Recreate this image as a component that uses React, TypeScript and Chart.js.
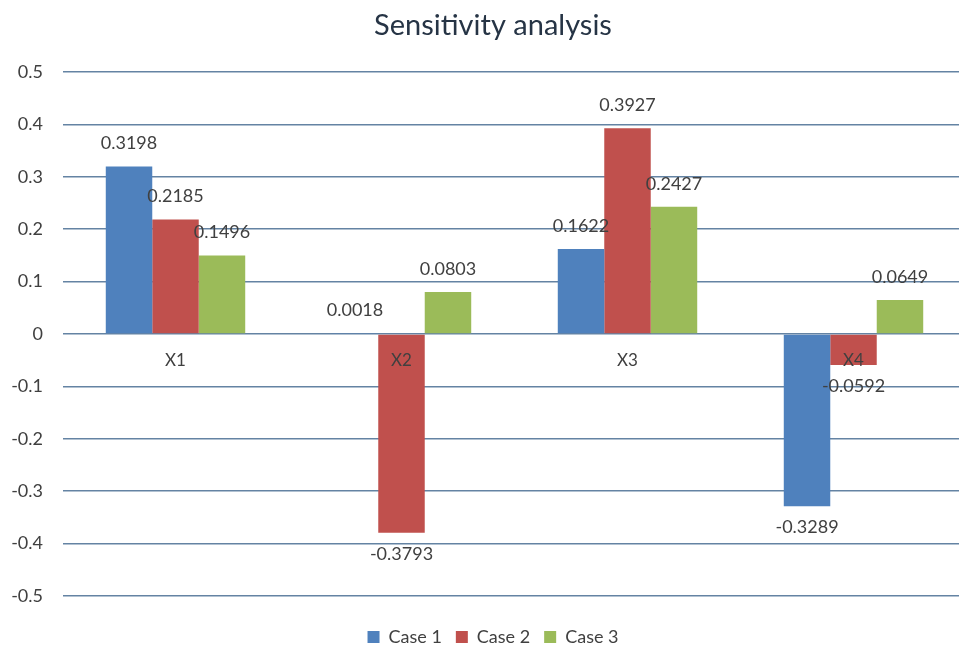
import React, { useEffect, useRef } from 'react';
import { Chart, registerables } from 'chart.js';

Chart.register(...registerables);

const categories = ['X1', 'X2', 'X3', 'X4'];
const seriesNames = ['Case 1', 'Case 2', 'Case 3'];
const case1 = [0.3198, 0.0018, 0.1622, -0.3289];
const case2 = [0.2185, -0.3793, 0.3927, -0.0592];
const case3 = [0.1496, 0.0803, 0.2427, 0.0649];
const yTickValues = [-0.5, -0.4, -0.3, -0.2, -0.1, 0, 0.1, 0.2, 0.3, 0.4, 0.5];

const seriesColors = ['#4F81BD', '#C0504D', '#9BBB59'];
const FONT = 'Lato';
const TEXT = '#404040';

const valueLabels = {
  id: 'valueLabels',
  afterDatasetsDraw(chart: any) {
    const ctx = chart.ctx;
    ctx.save();
    ctx.font = `18px ${FONT}`;
    ctx.fillStyle = TEXT;
    ctx.textAlign = 'center';
    ctx.textBaseline = 'middle';
    chart.data.datasets.forEach((ds: any, di: number) => {
      const meta = chart.getDatasetMeta(di);
      meta.data.forEach((el: any, i: number) => {
        const v = ds.data[i] as number;
        const y = v >= 0 ? el.y - 23 : el.y + 21;
        ctx.fillText(v.toFixed(4), el.x, y);
      });
    });
    ctx.restore();
  },
};

export default function App() {
  const ref = useRef<HTMLCanvasElement | null>(null);

  useEffect(() => {
    if (!ref.current) return;
    const data = [case1, case2, case3];
    const chart = new Chart(ref.current, {
      type: 'bar',
      data: {
        labels: categories,
        datasets: seriesNames.map((name, i) => ({
          label: name,
          data: data[i],
          backgroundColor: seriesColors[i],
          borderWidth: 0,
          categoryPercentage: 0.617,
          barPercentage: 1.0,
        })),
      },
      options: {
        responsive: false,
        animation: false,
        devicePixelRatio: 1,
        layout: { padding: { left: 19.5, right: 13.5, top: 0, bottom: 0 } },
        plugins: {
          title: {
            display: true,
            text: 'Sensitivity analysis',
            color: '#263445',
            font: { family: FONT, size: 29, weight: 'normal', lineHeight: 1.2 },
            padding: { top: 8, bottom: 29.2 },
          },
          legend: {
            display: true,
            position: 'bottom',
            title: {
              display: true,
              text: ' ',
              font: { family: FONT, size: 10, lineHeight: 1 },
              padding: 4,
            },
            labels: {
              color: TEXT,
              font: { family: FONT, size: 18 },
              boxWidth: 12,
              boxHeight: 12,
              padding: 14,
            },
          },
          tooltip: { enabled: false },
        },
        scales: {
          x: {
            type: 'category',
            position: { y: 0 } as any,
            grid: { display: false, drawTicks: false },
            border: { display: false },
            ticks: {
              color: TEXT,
              font: { family: FONT, size: 17 },
              padding: 16,
              maxRotation: 0,
              autoSkip: false,
              z: 1,
            } as any,
          },
          y: {
            type: 'linear',
            position: 'left',
            min: -0.5,
            max: 0.5,
            grid: { color: '#6483A3', lineWidth: 1.5, drawTicks: false },
            border: { display: false },
            afterBuildTicks: (scale: any) => {
              scale.ticks = yTickValues.map((v) => ({ value: v }));
            },
            afterFit: (scale: any) => {
              scale.width = 43;
              scale._computeLabelArea = () => undefined;
            },
            ticks: {
              color: TEXT,
              font: { family: FONT, size: 18 },
              padding: 19.5,
              callback: (v: any) => String(Number(Number(v).toFixed(1))),
            },
          },
        },
      },
      plugins: [valueLabels],
    });
    return () => chart.destroy();
  }, []);

  return (
    <div
      style={{
        position: 'fixed',
        left: 0,
        top: 0,
        width: 959,
        height: 647,
        overflow: 'hidden',
        background: '#ffffff',
      }}
    >
      <canvas ref={ref} width={980} height={656} style={{ display: 'block' }} />
    </div>
  );
}
